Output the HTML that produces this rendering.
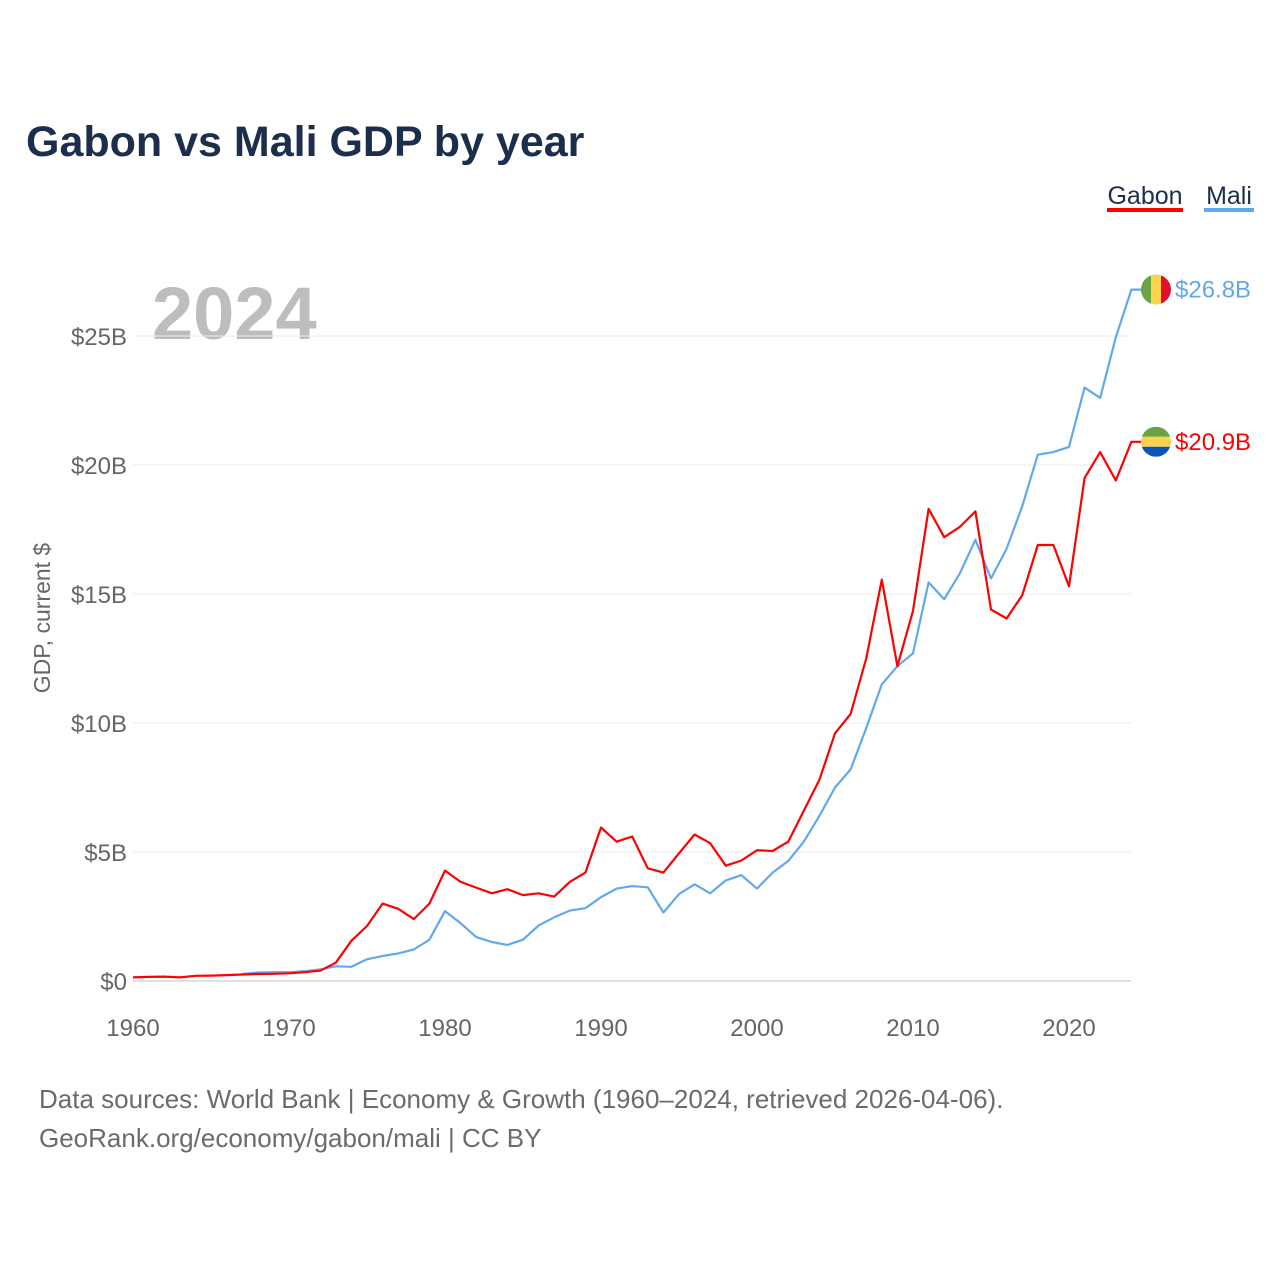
<!DOCTYPE html>
<html><head><meta charset="utf-8"><style>
html,body{margin:0;padding:0;background:#fff;}
body{width:1280px;height:1280px;position:relative;overflow:hidden;font-family:"Liberation Sans",sans-serif;}
svg text{font-family:"Liberation Sans",sans-serif;}
</style></head><body>
<svg id="chart" width="1280" height="1280" xmlns="http://www.w3.org/2000/svg">
<text x="26" y="156" font-size="43" font-weight="bold" fill="#1b2f4c">Gabon vs Mali GDP by year</text>
<g>
<text x="1145" y="204" font-size="25" fill="#1b2f4c" text-anchor="middle">Gabon</text>
<rect x="1107" y="208" width="76" height="4" fill="#ff0000"/>
<text x="1229" y="204" font-size="25" fill="#1b2f4c" text-anchor="middle">Mali</text>
<rect x="1204" y="208" width="50" height="4" fill="#62a8ee"/>
</g>
<text x="152" y="339" font-size="74" font-weight="bold" fill="#bdbdbd">2024</text>
<text transform="translate(50,618) rotate(-90)" font-size="23" fill="#666" text-anchor="middle">GDP, current $</text>
<g id="grid"></g><g id="yt"></g><g id="xt"></g><g id="lines"></g><g id="ends"></g>
<text x="39" y="1108" font-size="26" fill="#6b6b6b">Data sources: World Bank | Economy &amp; Growth (1960–2024, retrieved 2026-04-06).</text>
<text x="39" y="1147" font-size="26" fill="#6b6b6b">GeoRank.org/economy/gabon/mali | CC BY</text>
</svg>
<script>
const gabonYears=[];for(let y=1960;y<=2024;y++)gabonYears.push(y);
const gabonGDP=[0.14,0.16,0.17,0.14,0.2,0.21,0.23,0.25,0.27,0.28,0.3,0.34,0.4,0.71,1.56,2.13,3.0,2.8,2.4,3.0,4.28,3.84,3.62,3.4,3.56,3.33,3.4,3.27,3.84,4.2,5.95,5.4,5.6,4.37,4.2,4.95,5.68,5.34,4.47,4.67,5.07,5.04,5.4,6.6,7.8,9.6,10.35,12.5,15.56,12.2,14.35,18.3,17.2,17.6,18.2,14.4,14.05,14.95,16.9,16.9,15.3,19.5,20.5,19.4,20.9];
const maliYears=[];for(let y=1967;y<=2024;y++)maliYears.push(y);
const maliGDP=[0.27,0.33,0.34,0.34,0.38,0.45,0.57,0.55,0.84,0.97,1.07,1.22,1.6,2.71,2.24,1.7,1.51,1.4,1.6,2.15,2.47,2.73,2.82,3.25,3.58,3.68,3.63,2.65,3.37,3.75,3.4,3.9,4.1,3.58,4.2,4.65,5.4,6.4,7.5,8.2,9.8,11.5,12.2,12.7,15.45,14.8,15.8,17.1,15.6,16.75,18.4,20.4,20.5,20.7,23.0,22.6,24.95,26.8];
const yTicks=[0,5,10,15,20,25];
const yTickLabels=["$0","$5B","$10B","$15B","$20B","$25B"];
const xTicks=[1960,1970,1980,1990,2000,2010,2020];
const NS="http://www.w3.org/2000/svg";
const X=y=>133+(y-1960)*15.6;
const Y=v=>981-v*25.8;
function mk(tag,attrs,parent,text){const e=document.createElementNS(NS,tag);for(const k in attrs)e.setAttribute(k,attrs[k]);if(text!==undefined)e.textContent=text;document.getElementById(parent).appendChild(e);return e;}
yTicks.forEach((t,i)=>{
 const l=mk('line',{x1:133,x2:1131,y1:Y(t),y2:Y(t),stroke:t===0?'#e0e0e0':'#ebebeb','stroke-width':t===0?2:1},'grid');
 
 
 const tx=mk('text',{x:127,y:Y(t)+9,'font-size':24,fill:'#666','text-anchor':'end'},'yt',yTickLabels[i]);
 
 
});
xTicks.forEach(t=>{
 const tx=mk('text',{x:X(t),y:1036,'font-size':24,fill:'#666','text-anchor':'middle'},'xt',String(t));
 
 
});
function line(years,vals,color,name){
 let d=years.map((y,i)=>(i?'L':'M')+X(y).toFixed(1)+','+Y(vals[i]).toFixed(1)).join('');
 const last=vals[vals.length-1];
 d+='L'+(X(years[years.length-1])+10)+','+Y(last).toFixed(1);
 const p=mk('path',{d:d,fill:'none',stroke:color,'stroke-width':2.2,'stroke-linejoin':'round'},'lines');
 
 
}
line(maliYears,maliGDP,'#62a8ee','mali-line');
line(gabonYears,gabonGDP,'#ff0000','gabon-line');
function endLabel(v,color,label,flag,name){
 const cy=Y(v),cx=1156;
 const g=mk('g',{},'ends');
 
 
 const id='c'+name;
 const cp=document.createElementNS(NS,'clipPath');cp.setAttribute('id',id);
 const c=document.createElementNS(NS,'circle');c.setAttribute('cx',cx);c.setAttribute('cy',cy);c.setAttribute('r',15);cp.appendChild(c);g.appendChild(cp);
 const fg=document.createElementNS(NS,'g');fg.setAttribute('clip-path','url(#'+id+')');g.appendChild(fg);
 if(flag==='mali'){[['#6aa343',0],['#fcd34d',1],['#e0102a',2]].forEach(([f,i])=>{const r=document.createElementNS(NS,'rect');r.setAttribute('x',cx-15+i*10);r.setAttribute('y',cy-15);r.setAttribute('width',10);r.setAttribute('height',30);r.setAttribute('fill',f);fg.appendChild(r);});}
 else{[['#6aa343',0],['#fcd34d',1],['#0b55b8',2]].forEach(([f,i])=>{const r=document.createElementNS(NS,'rect');r.setAttribute('x',cx-15);r.setAttribute('y',cy-15+i*10);r.setAttribute('width',30);r.setAttribute('height',10);r.setAttribute('fill',f);fg.appendChild(r);});}
 const t=document.createElementNS(NS,'text');t.setAttribute('x',1175);t.setAttribute('y',cy+8);t.setAttribute('font-size',24);t.setAttribute('fill',color);t.textContent=label;g.appendChild(t);
}
endLabel(maliGDP[maliGDP.length-1],'#62a8ee','$26.8B','mali','mali-end-label');
endLabel(gabonGDP[gabonGDP.length-1],'#ff0000','$20.9B','gabon','gabon-end-label');
</script>
</body></html>
